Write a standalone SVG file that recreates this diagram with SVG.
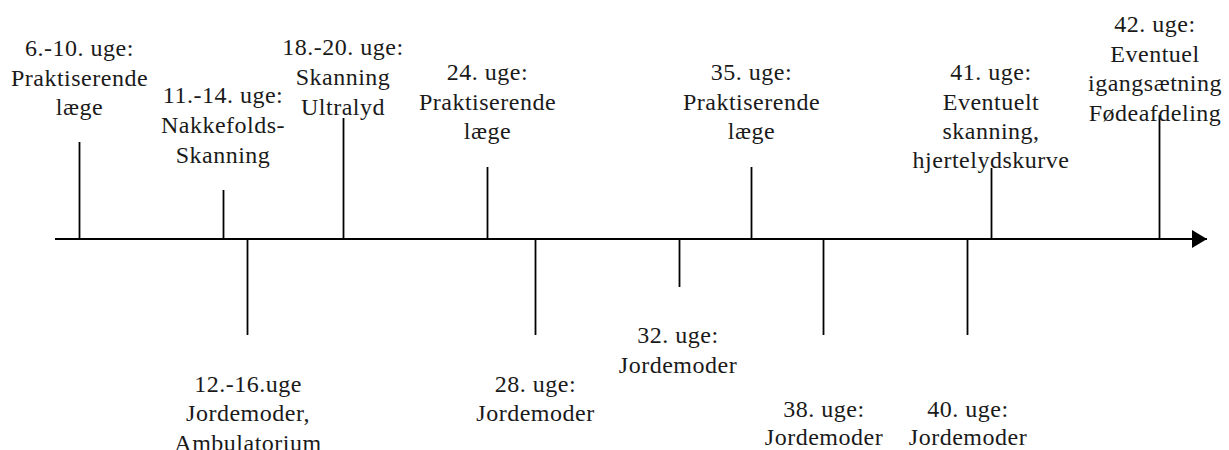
<svg xmlns="http://www.w3.org/2000/svg" width="1229" height="450" viewBox="0 0 1229 450">
  <style>
    text { font-family: 'Liberation Serif', serif; font-size: 24px; letter-spacing: 0.5px; fill: #1a1a1a; text-anchor: middle; }
    .tick { stroke: #000; stroke-width: 1.8; fill: none; }
    .axis { stroke: #000; stroke-width: 2; fill: none; }
  </style>
  <defs>
    <marker id="arrowhead" markerUnits="userSpaceOnUse" markerWidth="16" markerHeight="18" refX="15" refY="9" orient="auto">
      <path d="M0,0 L15,9 L0,18 Z" fill="#000"/>
    </marker>
  </defs>
  <rect width="1229" height="450" fill="#fff"/>

  <!-- timeline axis and week ticks -->
  <g id="connectors">
    <line class="axis" x1="55" y1="239" x2="1207" y2="239" marker-end="url(#arrowhead)"/>
    <line class="tick" x1="79.5" y1="142" x2="79.5" y2="239"/>
    <line class="tick" x1="223.5" y1="190" x2="223.5" y2="239"/>
    <line class="tick" x1="343.5" y1="118" x2="343.5" y2="239"/>
    <line class="tick" x1="487.5" y1="167" x2="487.5" y2="239"/>
    <line class="tick" x1="751.5" y1="167" x2="751.5" y2="239"/>
    <line class="tick" x1="991.5" y1="168" x2="991.5" y2="239"/>
    <line class="tick" x1="1159.5" y1="115" x2="1159.5" y2="239"/>
    <line class="tick" x1="247.5" y1="239" x2="247.5" y2="335"/>
    <line class="tick" x1="535.5" y1="239" x2="535.5" y2="335"/>
    <line class="tick" x1="679.5" y1="239" x2="679.5" y2="287"/>
    <line class="tick" x1="823.5" y1="239" x2="823.5" y2="335"/>
    <line class="tick" x1="967.5" y1="239" x2="967.5" y2="335"/>
  </g>

  <g id="uge-6-10">
    <text x="79.5" y="56">6.-10. uge:</text>
    <text x="79.5" y="86">Praktiserende</text>
    <text x="79.5" y="115">læge</text>
  </g>
  <g id="uge-11-14">
    <text x="223" y="103">11.-14. uge:</text>
    <text x="223" y="133">Nakkefolds-</text>
    <text x="223" y="163">Skanning</text>
  </g>
  <g id="uge-18-20">
    <text x="343" y="55">18.-20. uge:</text>
    <text x="343" y="85">Skanning</text>
    <text x="343" y="115">Ultralyd</text>
  </g>
  <g id="uge-24">
    <text x="487.5" y="80">24. uge:</text>
    <text x="487.5" y="110">Praktiserende</text>
    <text x="487.5" y="139">læge</text>
  </g>
  <g id="uge-35">
    <text x="751.5" y="80">35. uge:</text>
    <text x="751.5" y="110">Praktiserende</text>
    <text x="751.5" y="139">læge</text>
  </g>
  <g id="uge-41">
    <text x="991" y="80">41. uge:</text>
    <text x="991" y="110">Eventuelt</text>
    <text x="991" y="139">skanning,</text>
    <text x="991" y="168">hjertelydskurve</text>
  </g>
  <g id="uge-42">
    <text x="1155" y="32">42. uge:</text>
    <text x="1155" y="61.5">Eventuel</text>
    <text x="1155" y="91">igangsætning</text>
    <text x="1155" y="120.5">Fødeafdeling</text>
  </g>
  <g id="uge-12-16">
    <text x="248" y="392">12.-16.uge</text>
    <text x="248" y="421">Jordemoder,</text>
    <text x="248" y="451">Ambulatorium</text>
  </g>
  <g id="uge-28">
    <text x="535.5" y="392">28. uge:</text>
    <text x="535.5" y="421">Jordemoder</text>
  </g>
  <g id="uge-32">
    <text x="678" y="343">32. uge:</text>
    <text x="678" y="373">Jordemoder</text>
  </g>
  <g id="uge-38">
    <text x="824" y="417">38. uge:</text>
    <text x="824" y="445">Jordemoder</text>
  </g>
  <g id="uge-40">
    <text x="968" y="417">40. uge:</text>
    <text x="968" y="445">Jordemoder</text>
  </g>
</svg>
